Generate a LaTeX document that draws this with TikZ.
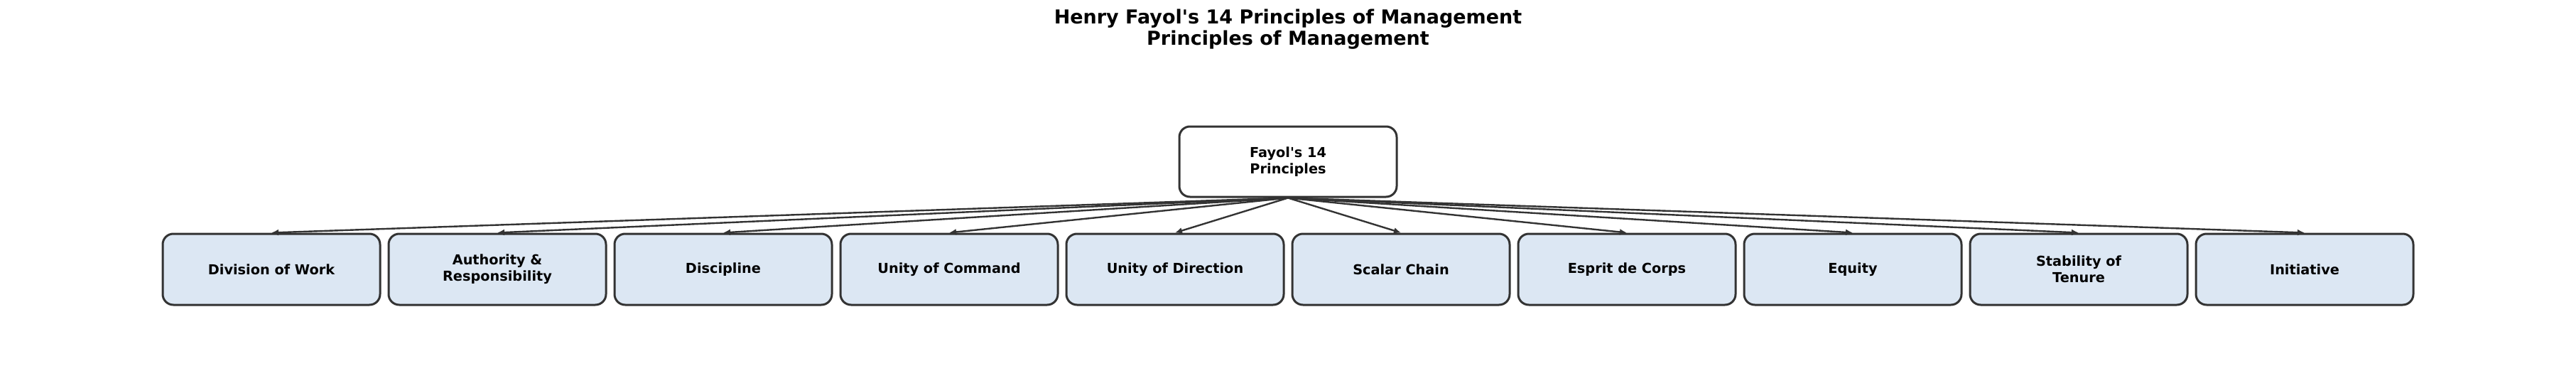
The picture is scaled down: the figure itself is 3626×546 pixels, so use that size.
\documentclass[tikz,border=0pt]{standalone}
\usepackage{fontspec}
\setmainfont{DejaVu Sans}
\usetikzlibrary{arrows.meta}
\definecolor{boxfill}{RGB}{220,231,243}
\definecolor{edge}{RGB}{51,51,51}
\begin{document}
\begin{tikzpicture}[x=0.5pt,y=-0.5pt,
  titletext/.style={font=\fontsize{13.5}{16}\selectfont\bfseries, inner sep=0pt, anchor=base},
  rootbox/.style={draw=edge, line width=1.5pt, rounded corners=7.5pt, fill=white,
    minimum width=153pt, minimum height=49.5pt, align=center, inner sep=0pt,
    font=\fontsize{9.65}{11.4}\selectfont\bfseries},
  childbox/.style={rootbox, fill=boxfill, minimum height=50pt},
  link/.style={draw=edge, line width=1.2pt, -{Latex[length=5pt,width=4.5pt]}}
]
\useasboundingbox (0,0) rectangle (3626,546);
\node[titletext] (t1) at (1813,33) {Henry Fayol\textquotesingle s 14 Principles of Management};
\node[titletext] (t2) at (1813,63) {Principles of Management};
\node[rootbox] (root) at (1813,227.5) {Fayol\textquotesingle s 14\\Principles};
\foreach \i/\txt in {0/Division of Work, 1/Authority \&\\Responsibility, 2/Discipline,
  3/Unity of Command, 4/Unity of Direction, 5/Scalar Chain, 6/Esprit de Corps,
  7/Equity, 8/Stability of\\Tenure, 9/Initiative} {
  \node[childbox] (c\i) at ({382+318*\i},379) {\txt};
  \draw[link] (root.south) -- (c\i.north);
}
\end{tikzpicture}
\end{document}
